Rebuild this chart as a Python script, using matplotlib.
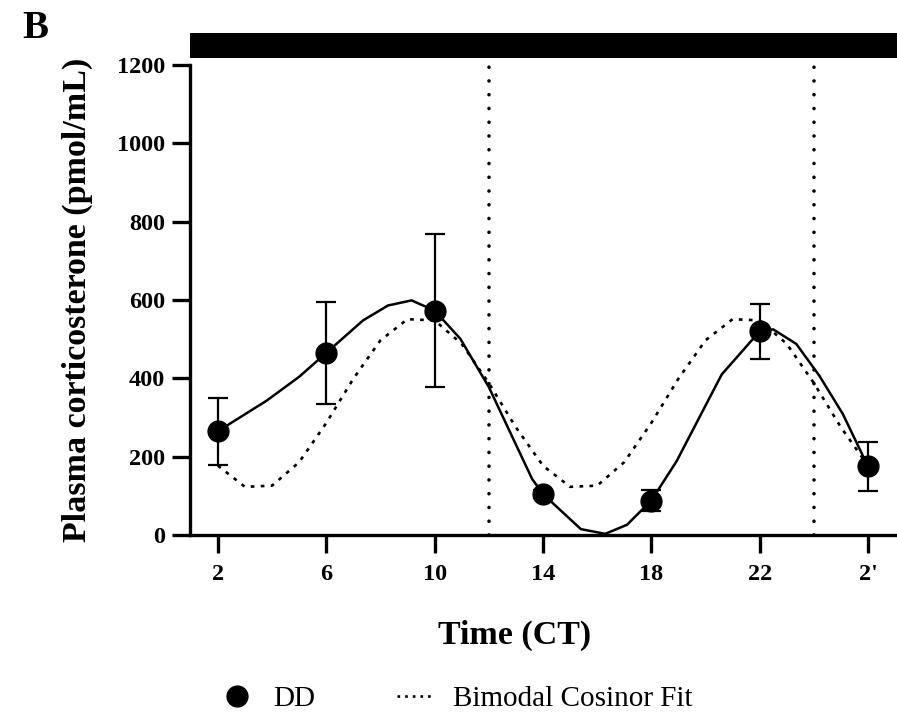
import matplotlib
matplotlib.use("Agg")
import matplotlib.pyplot as plt
from matplotlib.lines import Line2D

plt.rcParams['font.family'] = ['Liberation Serif', 'DejaVu Serif']

# measured group means and SEM
ct = [2, 6, 10, 14, 18, 22, 26]
cort_mean = [265, 465, 573, 105, 88, 520, 175]
cort_sem = [85, 130, 196, 10, 27, 70, 63]

# connecting spline as drawn in the figure
spline_x = [2, 3.8, 5.0, 6.0, 7.36, 8.28, 9.15, 10, 10.95, 12.0, 13.6, 14, 14.4,
            15.4, 16.3, 17.1, 18, 18.93, 20.6, 22, 22.5, 23.35, 24.2, 25.07, 26]
spline_y = [265, 343, 404, 465, 548, 586, 599, 573, 501, 378, 143, 105, 79,
            15, 3, 26, 88, 188, 410, 520, 525, 488, 407, 309, 175]

# bimodal cosinor fit
fit_x = [2, 3, 4, 5, 6, 7, 8, 9, 10, 11, 12, 13, 14,
         15, 16, 17, 18, 19, 20, 21, 22, 23, 24, 25, 26]
fit_y = [177, 123, 126, 186, 286, 399, 497, 551, 548, 488, 388, 275, 177,
         123, 126, 186, 286, 399, 497, 551, 548, 488, 388, 275, 177]

tick_pos = [2, 6, 10, 14, 18, 22, 26]
tick_labels = ['2', '6', '10', '14', '18', '22', "2'"]
light_off = [12, 24]

W, H = 897, 721
fig = plt.figure(figsize=(W / 100, H / 100), dpi=100)
ax = fig.add_axes([190 / W, 1 - 535 / H, 1 - 190 / W, (535 - 65) / H])

fit_style = (0, (1.4, 2.4))
ax.plot(fit_x, fit_y, color='black', lw=1.9, linestyle=fit_style)
ax.plot(spline_x, spline_y, color='black', lw=1.8)
ax.errorbar(ct, cort_mean, yerr=cort_sem, fmt='o', color='black', ms=15,
            elinewidth=1.6, capsize=7, capthick=1.6, zorder=5)

for x in light_off:
    ax.axvline(x, color='black', lw=2.6, linestyle=(0, (0.01, 3.8)),
               dash_capstyle='round', zorder=1)

ax.set_xlim(0.97, 27.07)
ax.set_ylim(0, 1200)
ax.set_xticks(tick_pos)
ax.set_xticklabels(tick_labels)
ax.set_yticks(range(0, 1201, 200))
for s in ['top', 'right']:
    ax.spines[s].set_visible(False)
for s in ['left', 'bottom']:
    ax.spines[s].set_linewidth(2.4)
ax.tick_params(axis='both', width=2.4, length=13, labelsize=17.5)
ax.tick_params(axis='x', pad=8)
ax.tick_params(axis='y', pad=5)
for lab in ax.get_xticklabels() + ax.get_yticklabels():
    lab.set_fontweight('bold')

ax.set_ylabel('Plasma corticosterone (pmol/mL)', fontsize=24.5, fontweight='bold')
ax.yaxis.set_label_coords((93 - 190) / (W - 190), 0.5)
fig.text(515 / W, 1 - 635 / H, 'Time (CT)', fontsize=24.5, fontweight='bold',
         ha='center', va='center')

# dark phase bar
bar = fig.add_axes([190 / W, 1 - 58 / H, 1 - 190 / W, 25 / H])
bar.set_facecolor('black')
bar.set_xticks([])
bar.set_yticks([])
for s in bar.spines.values():
    s.set_visible(False)

fig.text(22 / W, 1 - 38 / H, 'B', fontsize=28, fontweight='bold', ha='left',
         va='baseline')

handles = [Line2D([], [], marker='o', color='black', ls='none', ms=15),
           Line2D([], [], color='black', lw=1.9, linestyle=(0, (1.0, 1.9)))]
fig.legend(handles, ['DD', 'Bimodal Cosinor Fit'], loc='center',
           bbox_to_anchor=(455 / W, 1 - 699 / H), ncol=2, frameon=False,
           fontsize=21, handlelength=1.3, handletextpad=0.6,
           columnspacing=2.8, borderaxespad=0, borderpad=0)

fig.savefig('out.png', dpi=100)
